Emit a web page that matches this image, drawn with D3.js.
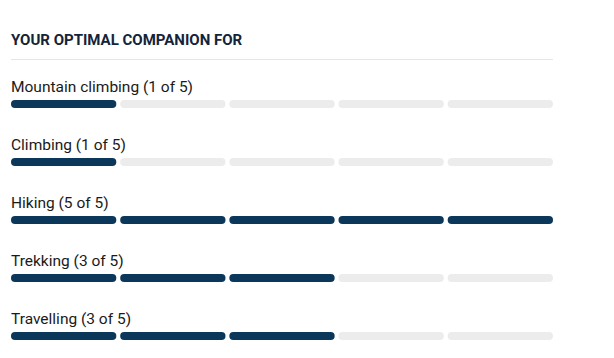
<!DOCTYPE html>
<html>
<head>
<meta charset="utf-8">
<script src="https://cdn.jsdelivr.net/npm/d3@7"></script>
<style>
  body { margin: 0; background: #fff; }
</style>
</head>
<body>
<div id="chart"></div>
<script>
const title = "YOUR OPTIMAL COMPANION FOR";
const activities = ["Mountain climbing", "Climbing", "Hiking", "Trekking", "Travelling"];
const scores = [1, 1, 5, 3, 3];
const maxScore = 5;

const width = 614, height = 358;
const left = 11, right = 553;

const svg = d3.select("#chart").append("svg")
    .attr("width", width)
    .attr("height", height);

svg.append("text")
    .attr("x", left)
    .attr("y", 45)
    .style("font-family", "Roboto, sans-serif")
    .style("font-weight", "bold")
    .style("font-size", "15px")
    .style("fill", "#14233a")
    .text(title);

svg.append("line")
    .attr("x1", left).attr("x2", right)
    .attr("y1", 59.5).attr("y2", 59.5)
    .attr("stroke", "#e6e6e6");

// rows
const y = d3.scaleBand()
    .domain(activities)
    .range([75, 365])
    .paddingInner(0);

// segments
const x = d3.scaleBand()
    .domain(d3.range(1, maxScore + 1))
    .range([left, right])
    .paddingInner(0.035)
    .paddingOuter(0);

const rows = svg.selectAll(".row")
    .data(activities.map((a, i) => ({ name: a, score: scores[i] })))
    .enter().append("g")
    .attr("class", "row")
    .attr("transform", d => `translate(0,${y(d.name)})`);

rows.append("text")
    .attr("x", left)
    .attr("y", 17)
    .style("font-family", "Roboto, sans-serif")
    .style("font-size", "15.5px")
    .style("fill", "#1a1a1a")
    .text(d => `${d.name} (${d.score} of ${maxScore})`);

rows.selectAll("rect")
    .data(d => d3.range(1, maxScore + 1).map(k => ({ k, on: k <= d.score })))
    .enter().append("rect")
    .attr("x", d => x(d.k))
    .attr("y", 25)
    .attr("width", x.bandwidth())
    .attr("height", 8)
    .attr("rx", 4)
    .attr("fill", d => d.on ? "#0b375b" : "#ececec");
</script>
</body>
</html>
